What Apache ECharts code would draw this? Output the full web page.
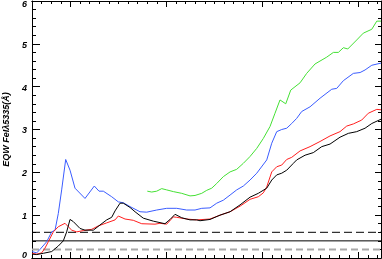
<!DOCTYPE html>
<html><head><meta charset="utf-8">
<script src="https://cdn.jsdelivr.net/npm/echarts@6/dist/echarts.min.js"></script>
<style>html,body{margin:0;padding:0;background:#fff}#c{width:382px;height:259px}</style>
</head><body><div id="c"></div>
<script>
// ---- data (x in arbitrary axis units, y = EQW in Å) ----
const X_MIN = 0, X_MAX = 36.35;
const Y_MIN = 0, Y_MAX = 6;
const yTickLabels = [0, 1, 2, 3, 4, 5, 6];
const xMinorTicks = [0,1,2,3,4,5,6,7,8,9,10,11,12,13,14,15,16,17,18,19,20,21,22,23,24,25,26,27,28,29,30,31,32,33,34,35,36];
const xMajorTicks = [4, 14, 24, 34];

const blueSeries = [[0,0.15],[0.49,0.12],[0.83,0.2],[1.53,0.38],[2.05,0.61],[2.40,0.65],[2.74,1.04],[3.09,1.59],[3.51,2.30],[3.96,2.05],[4.48,1.63],[5.52,1.39],[6.49,1.68],[6.98,1.56],[7.43,1.56],[8.30,1.43],[8.99,1.31],[9.51,1.29],[10.21,1.20],[11.25,1.08],[11.95,1.07],[12.99,1.12],[14.03,1.16],[15.07,1.16],[16.11,1.12],[16.98,1.12],[17.68,1.16],[18.54,1.17],[18.72,1.20],[19.24,1.28],[19.93,1.35],[20.63,1.47],[21.32,1.59],[22.01,1.68],[22.71,1.82],[23.41,1.98],[24.45,2.29],[24.97,2.68],[25.49,2.95],[26.01,3.00],[26.53,3.03],[27.05,3.14],[27.57,3.26],[28.09,3.42],[28.96,3.53],[30.0,3.73],[31.22,3.94],[31.74,3.96],[32.43,4.14],[33.47,4.31],[34.17,4.33],[34.69,4.39],[35.39,4.50],[36.35,4.55]];

const greenSeries = [[12.01,1.56],[12.47,1.54],[12.99,1.56],[13.51,1.62],[14.03,1.59],[14.72,1.55],[15.59,1.51],[16.46,1.45],[16.98,1.46],[17.68,1.51],[18.20,1.58],[18.72,1.63],[19.24,1.74],[19.93,1.90],[20.63,2.01],[21.32,2.07],[22.01,2.21],[22.71,2.37],[23.41,2.56],[24.09,2.79],[24.79,3.07],[25.31,3.38],[25.83,3.69],[26.43,3.60],[26.95,3.92],[27.92,4.09],[28.61,4.31],[29.48,4.53],[30.70,4.69],[31.39,4.80],[31.91,4.80],[32.43,4.91],[32.89,4.88],[33.82,5.09],[34.51,5.25],[35.39,5.34],[35.91,5.53],[36.35,5.53]];

const redSeries = [[0,0.11],[0.49,0.09],[1.01,0.12],[1.35,0.23],[1.70,0.38],[2.22,0.61],[2.74,0.73],[3.44,0.81],[3.78,0.73],[4.14,0.65],[4.66,0.61],[5.34,0.64],[6.22,0.67],[6.91,0.75],[7.78,0.82],[8.65,0.89],[8.99,0.98],[9.17,1.00],[9.69,0.91],[10.55,0.88],[11.43,0.80],[12.81,0.79],[13.33,0.81],[14.03,0.79],[14.72,0.96],[15.07,0.95],[16.11,0.91],[17.16,0.89],[18.54,0.91],[19.58,1.00],[20.63,1.08],[21.67,1.21],[22.71,1.37],[23.57,1.43],[24.09,1.52],[24.45,1.66],[24.97,2.01],[25.49,2.13],[26.01,2.17],[26.53,2.30],[27.05,2.35],[27.92,2.50],[28.96,2.60],[30.0,2.72],[31.04,2.85],[32.08,2.95],[32.78,3.08],[33.47,3.13],[34.34,3.22],[35.03,3.38],[35.91,3.47],[36.35,3.46]];

const blackSeries = [[0,0.09],[0.49,0.08],[1.18,0.11],[2.05,0.15],[2.74,0.28],[3.26,0.40],[3.61,0.61],[3.96,0.90],[4.30,0.85],[5.0,0.69],[5.52,0.65],[6.39,0.65],[7.08,0.77],[7.78,0.89],[8.30,0.95],[8.65,1.10],[9.17,1.28],[9.51,1.28],[10.21,1.18],[10.73,1.08],[11.59,0.93],[12.64,0.86],[13.85,0.80],[14.38,0.90],[14.90,1.02],[15.59,0.94],[16.46,0.89],[17.16,0.89],[17.50,0.87],[18.54,0.90],[19.58,1.00],[20.63,1.08],[21.67,1.24],[22.71,1.42],[23.57,1.51],[24.45,1.63],[24.97,1.82],[25.49,1.94],[26.01,1.98],[26.53,2.05],[27.22,2.21],[27.57,2.29],[28.44,2.40],[29.30,2.46],[30.18,2.60],[31.04,2.66],[32.08,2.82],[32.95,2.91],[33.82,2.95],[34.69,3.03],[35.39,3.14],[36.35,3.24]];

const refDashedBlack = 0.6;
const refSolidBlack = 0.4;
const refDashedGray = 0.2;
const yAxisName = 'EQW FeIλ5335(Å)';

// ---- chart ----
const chart = echarts.init(document.getElementById('c'), null, {renderer: 'canvas'});
const FONT = '"Liberation Sans", Arial, sans-serif';
const axisLineStyle = {show: true, onZero: false, lineStyle: {color: '#000', width: 1}};

function xAx(pos, ticks, len) {
  return {
    type: 'value', position: pos, min: X_MIN, max: X_MAX,
    axisLine: axisLineStyle,
    axisTick: {show: true, inside: true, length: len, customValues: ticks, lineStyle: {color: '#000', width: 1}},
    axisLabel: {show: false}, splitLine: {show: false}
  };
}
function yAx(pos, labels, majorLen, minorLen) {
  return {
    type: 'value', position: pos, min: Y_MIN, max: Y_MAX, interval: 1,
    axisLine: axisLineStyle,
    axisTick: {show: true, inside: true, length: majorLen, lineStyle: {color: '#000', width: 1}},
    minorTick: {show: true, splitNumber: 5, length: minorLen, lineStyle: {color: '#000', width: 1}},
    splitLine: {show: false}, minorSplitLine: {show: false},
    name: labels ? yAxisName : '', nameLocation: 'middle', nameGap: 19,
    nameTextStyle: {fontFamily: FONT, fontSize: 9, fontWeight: 'bold', fontStyle: 'italic', color: '#000'},
    axisLabel: labels ? {
      show: true, margin: 5, fontFamily: FONT,
      formatter: v => v === Y_MAX ? '{t|' + v + '}' : (v === Y_MIN ? '{b|' + v + '}' : '{m|' + v + '}'),
      rich: {
        t: {fontFamily: FONT, fontSize: 9, fontWeight: 'bold', fontStyle: 'italic', color: '#000', padding: [8, 0, 0, 0]},
        m: {fontFamily: FONT, fontSize: 9, fontWeight: 'bold', fontStyle: 'italic', color: '#000', padding: [3, 0, 0, 0]},
        b: {fontFamily: FONT, fontSize: 9, fontWeight: 'bold', fontStyle: 'italic', color: '#000', padding: [0, 0, 5, 0]}
      }
    } : {show: false}
  };
}

function lineSeries(data, color) {
  return {type: 'line', data: data, xAxisIndex: 0, yAxisIndex: 0, showSymbol: false, symbol: 'none',
    lineStyle: {color: color, width: 1}, animation: false, silent: true, clip: true};
}
function refLine(v, color, type, width) {
  return {type: 'line', data: [[X_MIN, v], [X_MAX, v]], xAxisIndex: 0, yAxisIndex: 0, symbol: 'none',
    lineStyle: {color: color, width: width, type: type}, animation: false, silent: true};
}

chart.setOption({
  animation: false,
  grid: {left: 32, right: 1, top: 1, bottom: 1, containLabel: false, outerBoundsMode: 'none'},
  xAxis: [xAx('bottom', xMinorTicks, 3), xAx('bottom', xMajorTicks, 6), xAx('top', xMinorTicks, 3), xAx('top', xMajorTicks, 6)],
  yAxis: [yAx('left', true, 8, 4), yAx('right', false, 6, 3)],
  series: [
    refLine(refDashedGray, '#a8a8a8', [7, 4], 2),
    refLine(refSolidBlack, '#000', 'solid', 1),
    refLine(refDashedBlack, '#000', [8, 4], 1),
    lineSeries(greenSeries, '#44e034'),
    lineSeries(blueSeries, '#3a5cff'),
    lineSeries(redSeries, '#ff1e1e'),
    lineSeries(blackSeries, '#000000')
  ]
});
</script>
</body></html>
